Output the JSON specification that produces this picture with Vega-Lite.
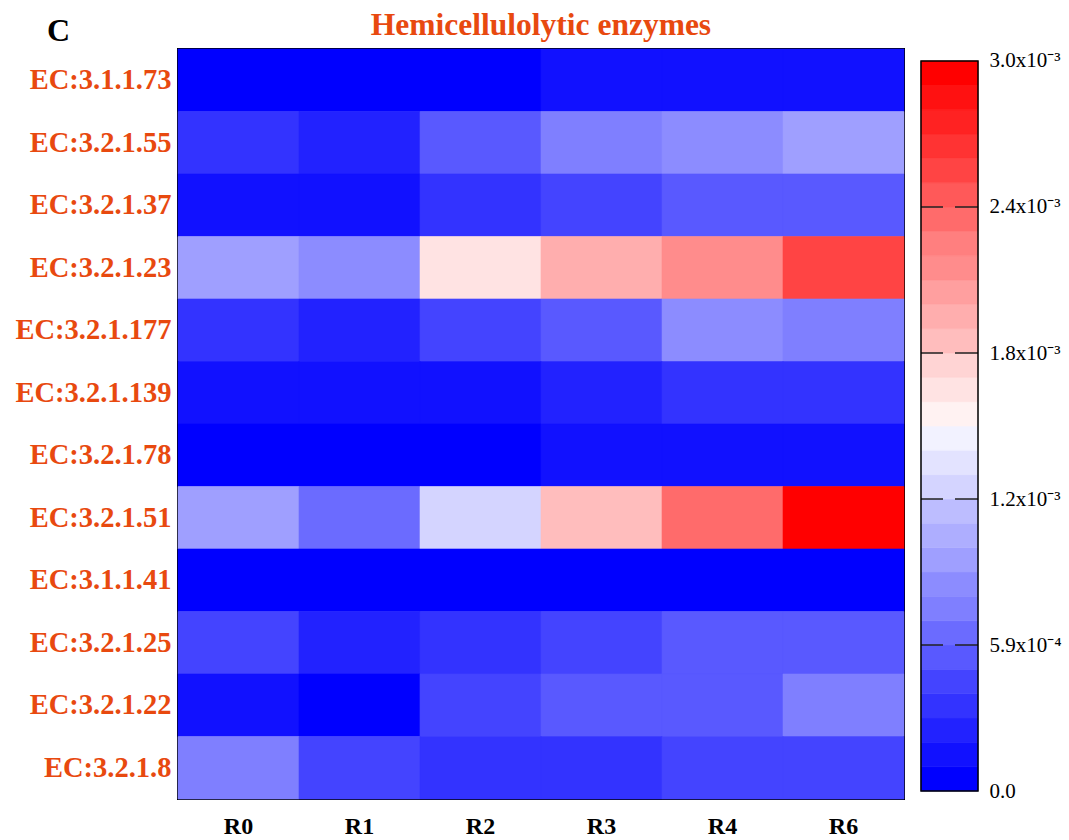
{
  "$schema": "https://vega.github.io/schema/vega-lite/v6.json",
  "background": "white",
  "padding": {"top": 8, "left": 14, "right": 0, "bottom": 0},
  "autosize": {"type": "pad"},
  "config": {"font": "Liberation Serif", "view": {"stroke": null}},
  "spacing": 17,
  "bounds": "flush",
  "datasets": {
    "cells": [
      {"ec": "EC:3.1.1.73", "sample": "R0", "value": 0.00005},
      {"ec": "EC:3.1.1.73", "sample": "R1", "value": 0.00005},
      {"ec": "EC:3.1.1.73", "sample": "R2", "value": 0.00005},
      {"ec": "EC:3.1.1.73", "sample": "R3", "value": 0.00015},
      {"ec": "EC:3.1.1.73", "sample": "R4", "value": 0.00015},
      {"ec": "EC:3.1.1.73", "sample": "R6", "value": 0.00015},
      {"ec": "EC:3.2.1.55", "sample": "R0", "value": 0.00035},
      {"ec": "EC:3.2.1.55", "sample": "R1", "value": 0.00025},
      {"ec": "EC:3.2.1.55", "sample": "R2", "value": 0.00054},
      {"ec": "EC:3.2.1.55", "sample": "R3", "value": 0.00074},
      {"ec": "EC:3.2.1.55", "sample": "R4", "value": 0.00084},
      {"ec": "EC:3.2.1.55", "sample": "R6", "value": 0.00094},
      {"ec": "EC:3.2.1.37", "sample": "R0", "value": 0.00015},
      {"ec": "EC:3.2.1.37", "sample": "R1", "value": 0.00015},
      {"ec": "EC:3.2.1.37", "sample": "R2", "value": 0.00035},
      {"ec": "EC:3.2.1.37", "sample": "R3", "value": 0.00045},
      {"ec": "EC:3.2.1.37", "sample": "R4", "value": 0.00054},
      {"ec": "EC:3.2.1.37", "sample": "R6", "value": 0.00054},
      {"ec": "EC:3.2.1.23", "sample": "R0", "value": 0.00094},
      {"ec": "EC:3.2.1.23", "sample": "R1", "value": 0.00084},
      {"ec": "EC:3.2.1.23", "sample": "R2", "value": 0.00163},
      {"ec": "EC:3.2.1.23", "sample": "R3", "value": 0.00193},
      {"ec": "EC:3.2.1.23", "sample": "R4", "value": 0.00213},
      {"ec": "EC:3.2.1.23", "sample": "R6", "value": 0.00252},
      {"ec": "EC:3.2.1.177", "sample": "R0", "value": 0.00035},
      {"ec": "EC:3.2.1.177", "sample": "R1", "value": 0.00025},
      {"ec": "EC:3.2.1.177", "sample": "R2", "value": 0.00045},
      {"ec": "EC:3.2.1.177", "sample": "R3", "value": 0.00054},
      {"ec": "EC:3.2.1.177", "sample": "R4", "value": 0.00084},
      {"ec": "EC:3.2.1.177", "sample": "R6", "value": 0.00074},
      {"ec": "EC:3.2.1.139", "sample": "R0", "value": 0.00015},
      {"ec": "EC:3.2.1.139", "sample": "R1", "value": 0.00015},
      {"ec": "EC:3.2.1.139", "sample": "R2", "value": 0.00015},
      {"ec": "EC:3.2.1.139", "sample": "R3", "value": 0.00025},
      {"ec": "EC:3.2.1.139", "sample": "R4", "value": 0.00035},
      {"ec": "EC:3.2.1.139", "sample": "R6", "value": 0.00035},
      {"ec": "EC:3.2.1.78", "sample": "R0", "value": 0.00005},
      {"ec": "EC:3.2.1.78", "sample": "R1", "value": 0.00005},
      {"ec": "EC:3.2.1.78", "sample": "R2", "value": 0.00005},
      {"ec": "EC:3.2.1.78", "sample": "R3", "value": 0.00015},
      {"ec": "EC:3.2.1.78", "sample": "R4", "value": 0.00015},
      {"ec": "EC:3.2.1.78", "sample": "R6", "value": 0.00015},
      {"ec": "EC:3.2.1.51", "sample": "R0", "value": 0.00094},
      {"ec": "EC:3.2.1.51", "sample": "R1", "value": 0.00064},
      {"ec": "EC:3.2.1.51", "sample": "R2", "value": 0.00124},
      {"ec": "EC:3.2.1.51", "sample": "R3", "value": 0.00183},
      {"ec": "EC:3.2.1.51", "sample": "R4", "value": 0.00233},
      {"ec": "EC:3.2.1.51", "sample": "R6", "value": 0.00292},
      {"ec": "EC:3.1.1.41", "sample": "R0", "value": 0.00005},
      {"ec": "EC:3.1.1.41", "sample": "R1", "value": 0.00005},
      {"ec": "EC:3.1.1.41", "sample": "R2", "value": 0.00005},
      {"ec": "EC:3.1.1.41", "sample": "R3", "value": 0.00005},
      {"ec": "EC:3.1.1.41", "sample": "R4", "value": 0.00005},
      {"ec": "EC:3.1.1.41", "sample": "R6", "value": 0.00005},
      {"ec": "EC:3.2.1.25", "sample": "R0", "value": 0.00045},
      {"ec": "EC:3.2.1.25", "sample": "R1", "value": 0.00025},
      {"ec": "EC:3.2.1.25", "sample": "R2", "value": 0.00035},
      {"ec": "EC:3.2.1.25", "sample": "R3", "value": 0.00045},
      {"ec": "EC:3.2.1.25", "sample": "R4", "value": 0.00054},
      {"ec": "EC:3.2.1.25", "sample": "R6", "value": 0.00054},
      {"ec": "EC:3.2.1.22", "sample": "R0", "value": 0.00015},
      {"ec": "EC:3.2.1.22", "sample": "R1", "value": 0.00005},
      {"ec": "EC:3.2.1.22", "sample": "R2", "value": 0.00045},
      {"ec": "EC:3.2.1.22", "sample": "R3", "value": 0.00054},
      {"ec": "EC:3.2.1.22", "sample": "R4", "value": 0.00054},
      {"ec": "EC:3.2.1.22", "sample": "R6", "value": 0.00074},
      {"ec": "EC:3.2.1.8", "sample": "R0", "value": 0.00074},
      {"ec": "EC:3.2.1.8", "sample": "R1", "value": 0.00045},
      {"ec": "EC:3.2.1.8", "sample": "R2", "value": 0.00035},
      {"ec": "EC:3.2.1.8", "sample": "R3", "value": 0.00035},
      {"ec": "EC:3.2.1.8", "sample": "R4", "value": 0.00045},
      {"ec": "EC:3.2.1.8", "sample": "R6", "value": 0.00045}
    ],
    "bar": [
      {"lo": 0, "hi": 0.000099, "mid": 0.0000495},
      {"lo": 0.000099, "hi": 0.000198, "mid": 0.0001485},
      {"lo": 0.000198, "hi": 0.000297, "mid": 0.0002475},
      {"lo": 0.000297, "hi": 0.000396, "mid": 0.0003465},
      {"lo": 0.000396, "hi": 0.000495, "mid": 0.0004455},
      {"lo": 0.000495, "hi": 0.000594, "mid": 0.0005445},
      {"lo": 0.000594, "hi": 0.000693, "mid": 0.0006435},
      {"lo": 0.000693, "hi": 0.000792, "mid": 0.0007425},
      {"lo": 0.000792, "hi": 0.000891, "mid": 0.0008415},
      {"lo": 0.000891, "hi": 0.00099, "mid": 0.0009405},
      {"lo": 0.00099, "hi": 0.001089, "mid": 0.0010395},
      {"lo": 0.001089, "hi": 0.001188, "mid": 0.0011385},
      {"lo": 0.001188, "hi": 0.001287, "mid": 0.0012375},
      {"lo": 0.001287, "hi": 0.001386, "mid": 0.0013365},
      {"lo": 0.001386, "hi": 0.001485, "mid": 0.0014355},
      {"lo": 0.001485, "hi": 0.001584, "mid": 0.0015345},
      {"lo": 0.001584, "hi": 0.001683, "mid": 0.0016335},
      {"lo": 0.001683, "hi": 0.001782, "mid": 0.0017325},
      {"lo": 0.001782, "hi": 0.001881, "mid": 0.0018315},
      {"lo": 0.001881, "hi": 0.00198, "mid": 0.0019305},
      {"lo": 0.00198, "hi": 0.002079, "mid": 0.0020295},
      {"lo": 0.002079, "hi": 0.002178, "mid": 0.0021285},
      {"lo": 0.002178, "hi": 0.002277, "mid": 0.0022275},
      {"lo": 0.002277, "hi": 0.002376, "mid": 0.0023265},
      {"lo": 0.002376, "hi": 0.002475, "mid": 0.0024255},
      {"lo": 0.002475, "hi": 0.002574, "mid": 0.0025245},
      {"lo": 0.002574, "hi": 0.002673, "mid": 0.0026235},
      {"lo": 0.002673, "hi": 0.002772, "mid": 0.0027225},
      {"lo": 0.002772, "hi": 0.002871, "mid": 0.0028215},
      {"lo": 0.002871, "hi": 0.00297, "mid": 0.0029205}
    ],
    "frame": [{"lo": 0, "hi": 0.00297}],
    "ticks": [{"v": 0.000594}, {"v": 0.001188}, {"v": 0.001782}, {"v": 0.002376}]
  },
  "hconcat": [
    {
      "width": 726,
      "height": 750,
      "view": {"stroke": "black", "strokeWidth": 2},
      "title": {
        "text": "Hemicellulolytic enzymes",
        "color": "#E8490F",
        "font": "Liberation Serif",
        "fontSize": 31.5,
        "fontWeight": "bold",
        "anchor": "middle",
        "frame": "group",
        "offset": -27
      },
      "data": {"name": "cells"},
      "mark": {"type": "rect", "strokeWidth": 0.6},
      "encoding": {
        "x": {
          "field": "sample",
          "type": "nominal",
          "sort": ["R0", "R1", "R2", "R3", "R4", "R6"],
          "scale": {"paddingInner": 0, "paddingOuter": 0},
          "axis": {
            "orient": "bottom",
            "title": null,
            "labelAngle": 0,
            "ticks": false,
            "domain": false,
            "labelPadding": 15,
            "labelFont": "Liberation Serif",
            "labelFontSize": 24,
            "labelFontWeight": "bold",
            "labelColor": "black"
          }
        },
        "y": {
          "field": "ec",
          "type": "nominal",
          "sort": ["EC:3.1.1.73", "EC:3.2.1.55", "EC:3.2.1.37", "EC:3.2.1.23", "EC:3.2.1.177", "EC:3.2.1.139", "EC:3.2.1.78", "EC:3.2.1.51", "EC:3.1.1.41", "EC:3.2.1.25", "EC:3.2.1.22", "EC:3.2.1.8"],
          "scale": {"paddingInner": 0, "paddingOuter": 0},
          "axis": {
            "title": "C",
            "titleAngle": 0,
            "titleX": -120,
            "titleY": -9,
            "titleAlign": "center",
            "titleBaseline": "alphabetic",
            "titleFont": "Liberation Serif",
            "titleFontSize": 32,
            "titleFontWeight": "bold",
            "titleColor": "black",
            "ticks": false,
            "domain": false,
            "labelPadding": 7,
            "labelFont": "Liberation Serif",
            "labelFontSize": 28.5,
            "labelFontWeight": "bold",
            "labelColor": "#E8490F"
          }
        },
        "color": {
          "field": "value",
          "type": "quantitative",
          "scale": {
            "type": "quantize",
            "domain": [0, 0.00297],
            "range": ["#0000FF", "#1111FF", "#2222FF", "#3333FF", "#4444FF", "#5959FF", "#6B6BFF", "#7F7FFF", "#8C8CFF", "#9F9FFF", "#AEAEFF", "#BDBDFF", "#D4D4FF", "#E3E3FF", "#F2F2FF", "#FFF2F2", "#FFE3E3", "#FFD4D4", "#FFBDBD", "#FFAEAE", "#FF9F9F", "#FF8C8C", "#FF7F7F", "#FF6B6B", "#FF5959", "#FF4444", "#FF3333", "#FF2222", "#FF1111", "#FF0000"]
          },
          "legend": null
        },
        "stroke": {
          "field": "value",
          "type": "quantitative",
          "scale": {
            "type": "quantize",
            "domain": [0, 0.00297],
            "range": ["#0000FF", "#1111FF", "#2222FF", "#3333FF", "#4444FF", "#5959FF", "#6B6BFF", "#7F7FFF", "#8C8CFF", "#9F9FFF", "#AEAEFF", "#BDBDFF", "#D4D4FF", "#E3E3FF", "#F2F2FF", "#FFF2F2", "#FFE3E3", "#FFD4D4", "#FFBDBD", "#FFAEAE", "#FF9F9F", "#FF8C8C", "#FF7F7F", "#FF6B6B", "#FF5959", "#FF4444", "#FF3333", "#FF2222", "#FF1111", "#FF0000"]
          },
          "legend": null
        }
      }
    },
    {
      "width": 57,
      "height": 750,
      "view": {"stroke": null},
      "layer": [
        {
          "data": {"name": "bar"},
          "mark": {"type": "rect", "strokeWidth": 0.6},
          "encoding": {
            "y": {
              "field": "lo",
              "type": "quantitative",
              "scale": {"domain": [-0.0000325, 0.0030188], "nice": false, "zero": false},
              "axis": {
                "orient": "right",
                "title": null,
                "grid": false,
                "domain": false,
                "ticks": false,
                "values": [0, 0.000594, 0.001188, 0.001782, 0.002376, 0.00297],
                "labelExpr": "datum.value < 0.0001 ? '0.0' : datum.value < 0.001 ? '5.9x10\u207b\u2074' : datum.value < 0.0015 ? '1.2x10\u207b\u00b3' : datum.value < 0.002 ? '1.8x10\u207b\u00b3' : datum.value < 0.0027 ? '2.4x10\u207b\u00b3' : '3.0x10\u207b\u00b3'",
                "labelFont": "Liberation Serif",
                "labelFontSize": 21,
                "labelColor": "black",
                "labelPadding": 11,
                "labelFlush": false,
                "labelOverlap": false,
                "labelBound": false,
                "labelBaseline": "middle"
              }
            },
            "y2": {"field": "hi"},
            "color": {
              "field": "mid",
              "type": "quantitative",
              "scale": {
                "type": "quantize",
                "domain": [0, 0.00297],
                "range": ["#0000FF", "#1111FF", "#2222FF", "#3333FF", "#4444FF", "#5959FF", "#6B6BFF", "#7F7FFF", "#8C8CFF", "#9F9FFF", "#AEAEFF", "#BDBDFF", "#D4D4FF", "#E3E3FF", "#F2F2FF", "#FFF2F2", "#FFE3E3", "#FFD4D4", "#FFBDBD", "#FFAEAE", "#FF9F9F", "#FF8C8C", "#FF7F7F", "#FF6B6B", "#FF5959", "#FF4444", "#FF3333", "#FF2222", "#FF1111", "#FF0000"]
              },
              "legend": null
            },
            "stroke": {
              "field": "mid",
              "type": "quantitative",
              "scale": {
                "type": "quantize",
                "domain": [0, 0.00297],
                "range": ["#0000FF", "#1111FF", "#2222FF", "#3333FF", "#4444FF", "#5959FF", "#6B6BFF", "#7F7FFF", "#8C8CFF", "#9F9FFF", "#AEAEFF", "#BDBDFF", "#D4D4FF", "#E3E3FF", "#F2F2FF", "#FFF2F2", "#FFE3E3", "#FFD4D4", "#FFBDBD", "#FFAEAE", "#FF9F9F", "#FF8C8C", "#FF7F7F", "#FF6B6B", "#FF5959", "#FF4444", "#FF3333", "#FF2222", "#FF1111", "#FF0000"]
              },
              "legend": null
            }
          }
        },
        {
          "data": {"name": "ticks"},
          "mark": {"type": "rule", "color": "#222222", "strokeWidth": 1.5, "strokeDash": [23, 12]},
          "encoding": {"y": {"field": "v", "type": "quantitative"}}
        },
        {
          "data": {"name": "frame"},
          "mark": {"type": "rect", "fillOpacity": 0, "stroke": "black", "strokeWidth": 1.5},
          "encoding": {
            "y": {"field": "lo", "type": "quantitative"},
            "y2": {"field": "hi"}
          }
        }
      ]
    }
  ]
}
